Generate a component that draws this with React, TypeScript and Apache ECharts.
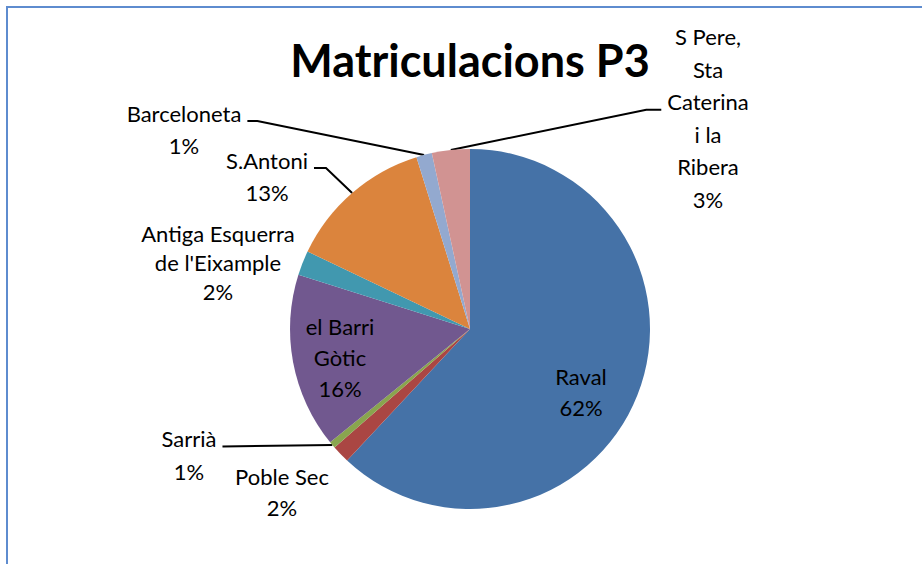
import React, { useEffect, useRef } from "react";
import * as echarts from "echarts";

// ---- data ----
const CATEGORIES = [
  "Raval",
  "Poble Sec",
  "Sarrià",
  "el Barri Gòtic",
  "Antiga Esquerra de l'Eixample",
  "S.Antoni",
  "Barceloneta",
  "S Pere, Sta Caterina i la Ribera",
];
const VALUES = [61.9, 1.6, 0.6, 15.7, 2.2, 13.1, 1.4, 3.4];
const LABEL_TEXT = [
  "Raval",
  "Poble Sec",
  "Sarrià",
  "el Barri\nGòtic",
  "Antiga Esquerra\nde l'Eixample",
  "S.Antoni",
  "Barceloneta",
  "S Pere,\nSta\nCaterina\ni la\nRibera",
];
const COLORS = ["#4572a7", "#aa4643", "#89a54e", "#71588f", "#4198af", "#db843d", "#93a9cf", "#d19392"];
const TITLE = "Matriculacions P3";

// ---- label layout (positions, not data) ----
const LABEL_CENTER: [number, number][] = [
  [581, 392],
  [282, 492],
  [189, 455],
  [340, 357],
  [218, 262],
  [267, 176],
  [184, 129],
  [708, 118],
];
const LINE_HEIGHT = [31, 31, 33, 31, 29, 32, 32, 32.6];
// leader line: side of label, index of line it attaches to, horizontal stub length
const LEADER: ({ side: "left" | "right"; line: number; stub: number } | null)[] = [
  null,
  null,
  { side: "right", line: 0, stub: 0 },
  null,
  null,
  { side: "right", line: 0, stub: 12 },
  { side: "right", line: 0, stub: 10 },
  { side: "left", line: 2, stub: 15 },
];
const FONT = "Lato";

export default function App() {
  const ref = useRef<HTMLDivElement>(null);
  useEffect(() => {
    if (!ref.current) return;
    const chart = echarts.init(ref.current, undefined, { renderer: "svg" });
    const data = CATEGORIES.map((name, i) => ({
      name,
      value: VALUES[i],
      itemStyle: { color: COLORS[i] },
      label: { lineHeight: LINE_HEIGHT[i] },
      labelLine: { show: LEADER[i] !== null },
    }));
    chart.setOption({
      animation: false,
      backgroundColor: "#ffffff",
      title: {
        text: TITLE,
        left: 470,
        top: 37,
        textAlign: "center",
        padding: 0,
        textStyle: { fontFamily: FONT, fontWeight: "bold", fontSize: 45, lineHeight: 45, color: "#000" },
      },
      graphic: [
        {
          type: "rect",
          shape: { x: 7, y: 7, width: 940, height: 600 },
          style: { fill: "none", stroke: "#5e8ccf", lineWidth: 2 },
          silent: true,
        },
      ],
      series: [
        {
          type: "pie",
          center: [470, 329],
          radius: 180,
          startAngle: 90,
          clockwise: true,
          avoidLabelOverlap: false,
          data,
          label: {
            show: true,
            position: "outside",
            fontFamily: FONT,
            fontSize: 22,
            color: "#000",
            align: "center",
            formatter: (p: any) => `${LABEL_TEXT[p.dataIndex]}\n${Math.round(p.percent)}%`,
          },
          labelLine: { show: true, lineStyle: { color: "#000", width: 2 }, length: 10, length2: 10 },
          labelLayout: (p: any) => {
            const i = p.dataIndex;
            const [cx, cy] = LABEL_CENTER[i];
            const w = p.labelRect.width;
            const h = p.labelRect.height;
            const res: any = { x: cx, y: cy, align: "center", verticalAlign: "middle" };
            const ld = LEADER[i];
            if (ld && p.labelLinePoints) {
              const anchor = p.labelLinePoints[0];
              const top = cy - h / 2;
              const ly = top + LINE_HEIGHT[i] * (ld.line + 0.5) + 8;
              const gap = 6;
              const ex = ld.side === "right" ? cx + w / 2 + gap : cx - w / 2 - gap;
              const kx = ld.side === "right" ? ex + ld.stub : ex - ld.stub;
              res.labelLinePoints = [anchor, [kx, ly], [ex, ly]];
            }
            return res;
          },
        },
      ],
    });
    return () => chart.dispose();
  }, []);
  return (
    <div
      ref={ref}
      style={{ position: "absolute", left: 0, top: 0, width: 922, height: 564, background: "#fff" }}
    />
  );
}
